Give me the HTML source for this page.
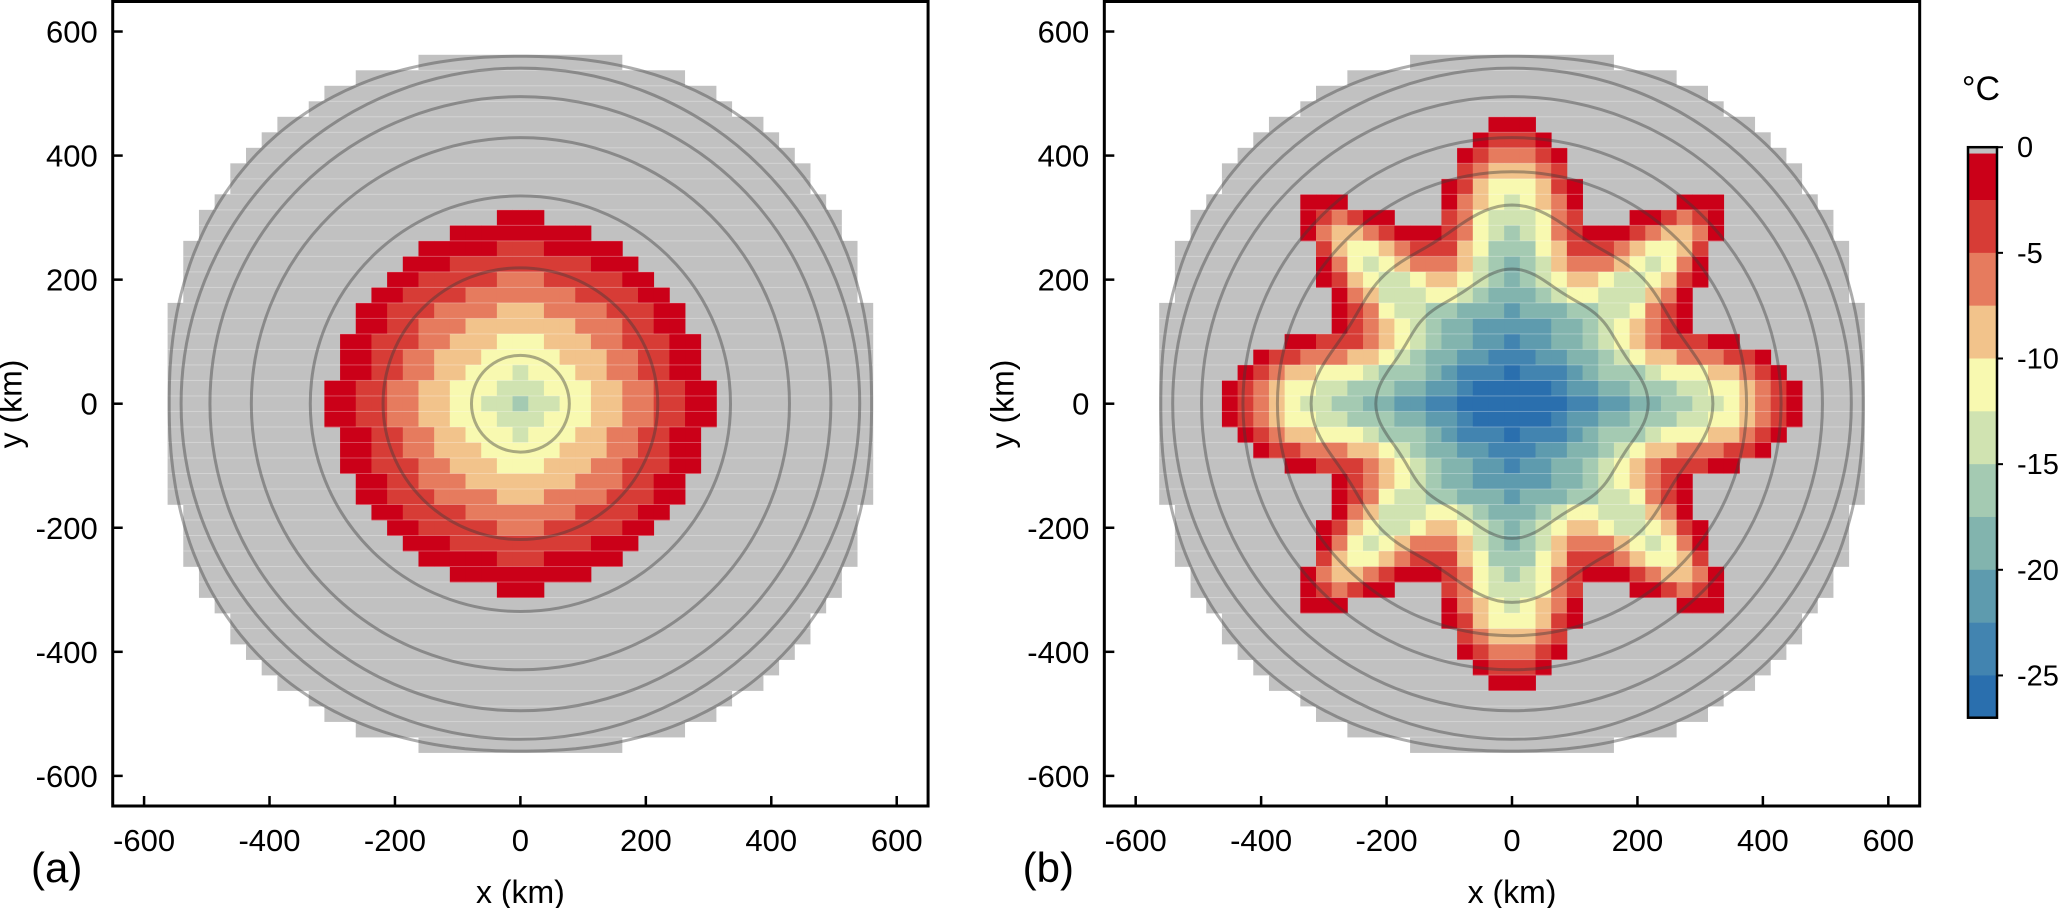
<!DOCTYPE html>
<html><head><meta charset="utf-8"><style>
html,body{margin:0;padding:0;background:#fff;}
svg{display:block;font-family:"Liberation Sans",Arial,sans-serif;}
</style></head><body>
<svg id="fig" width="2066" height="908" viewBox="0 0 2066 908" xmlns="http://www.w3.org/2000/svg">
<g id="panelA"></g>
<g id="panelB"></g>
<g id="cbar"></g>
</svg>
<script>
// ---- data ----
const bandColors = ["none","#CB0018","#D73C36","#E67B5E","#F2C38B","#F8F9B0","#D0E3B1","#A4CAB2","#82B4AE","#5E9BAE","#4284B0","#2A6FAE"];
const bandEdges = [0,-2.5,-5,-7.5,-10,-12.5,-15,-17.5,-20,-22.5,-25,-27];
const cbarTicks = [0,-5,-10,-15,-20,-25];
const xTicks = [-600,-400,-200,0,200,400,600];
const yTicks = [600,400,200,0,-200,-400,-600];
const contoursA = [78,219,335,429,495,541];
const contoursB = [374,429,495,541];
const wavyContoursB = [202,298];
const gridA = [
"...........111...........",
"........111111111........",
"......1111122211111......",
".....111222222222111.....",
"....11222223332222211....",
"...1122223333333222211...",
"..112223333444333322211..",
"..112233344444443332211..",
".11222334445554443322211.",
".11223344455555444332211.",
".11223344555655544332211.",
"1122334455566655544332211",
"1122334455667665544332211",
"1122334455566655544332211",
".11223344555655544332211.",
".11223344455555444332211.",
".11222334445554443322211.",
"..112233344444443332211..",
"..112223333444333322211..",
"...1122223333333222211...",
"....11222223332222211....",
".....111222222222111.....",
"......1111122211111......",
"........111111111........",
"...........111..........."
];
const gridB = [
".................1"+"1"+"1.................",
"................12"+"2"+"21................",
"...............123"+"3"+"321...............",
"...............234"+"4"+"432...............",
"..............1245"+"5"+"5421..............",
".....111......1345"+"6"+"5431......111.....",
".....123211...2356"+"6"+"6532...112321.....",
".....1344321112356"+"7"+"6532111234431.....",
"......245543222457"+"7"+"754222345542......",
"......135654333467"+"8"+"764333456531......",
"......124566544567"+"8"+"765445665421......",
".......13466655678"+"8"+"87655666431.......",
".......12356677888"+"9"+"88877665321.......",
".......12345678899"+"9"+"99887654321.......",
"....11222345678899"+"a"+"99887654322211....",
"..122333445678899a"+"a"+"a998876544333221..",
".12344555677789aaa"+"b"+"aaa98777655544321.",
"123455667778899abb"+"b"+"bba998877766554321",
"1234566778899aabbb"+"b"+"bbbaa9988776654321",
"123455667778899abb"+"b"+"bba998877766554321",
".12344555677789aaa"+"b"+"aaa98777655544321.",
"..122333445678899a"+"a"+"a998876544333221..",
"....11222345678899"+"a"+"99887654322211....",
".......12345678899"+"9"+"99887654321.......",
".......12356677888"+"9"+"88877665321.......",
".......13466655678"+"8"+"87655666431.......",
"......124566544567"+"8"+"765445665421......",
"......135654333467"+"8"+"764333456531......",
"......245543222457"+"7"+"754222345542......",
".....1344321112356"+"7"+"6532111234431.....",
".....123211...2356"+"6"+"6532...112321.....",
".....111......1345"+"6"+"5431......111.....",
"..............1245"+"5"+"5421..............",
"...............234"+"4"+"432...............",
"...............123"+"3"+"321...............",
"................12"+"2"+"21................",
".................1"+"1"+"1................."
];
const cellKm = 25;
const iceRadiusKm = 568;
const iceShapeP = 2.25;

// ---- helpers ----
const NS = "http://www.w3.org/2000/svg";
function mk(tag, attrs, parent){
  const e = document.createElementNS(NS, tag);
  for (const k in attrs) e.setAttribute(k, attrs[k]);
  parent.appendChild(e);
  return e;
}
const KX = 0.6272, KY = 0.6203, Y0 = 403.7;
function yPix(km){ return Y0 - km*KY; }
function inIce(xk, yk){
  return Math.pow(Math.abs(xk)/iceRadiusKm, iceShapeP) + Math.pow(Math.abs(yk)/iceRadiusKm, iceShapeP) < 1;
}

function drawPanel(g, x0, grid, contours, wavy, label){
  const xPix = km => x0 + km*KX;
  const left = x0 - 650*KX, right = x0 + 650*KX;
  const n = Math.ceil(iceRadiusKm/cellKm);
  for (let j=-n;j<=n;j++){
    let maxI=-1;
    for (let i=0;i<=n;i++){ if (inIce(i*cellKm,j*cellKm)) maxI=i; }
    if (maxI<0) continue;
    const r = mk("rect",{x:xPix((-maxI-0.5)*cellKm), y:yPix((j+0.5)*cellKm), width:(2*maxI+1)*cellKm*KX, height:cellKm*KY+0.3, fill:"#C1C1C1"}, g);
    
    
  }
  const h = (grid.length-1)/2;
  grid.forEach((row, ri) => {
    const j = h - ri;
    for (let ci=0; ci<row.length; ci++){
      const c = row[ci];
      if (c === ".") continue;
      const i = ci - (row.length-1)/2;
      const cell = mk("rect",{x:xPix((i-0.5)*cellKm), y:yPix((j+0.5)*cellKm), width:cellKm*KX+0.4, height:cellKm*KY+0.4, fill:bandColors[parseInt(c,16)]}, g);
      
      
    }
  });
  for (let j=-n;j<=n+1;j++){
    let maxI=-1;
    for (let i=0;i<=n;i++){ if (inIce(i*cellKm,j*cellKm) && inIce(i*cellKm,(j-1)*cellKm)) maxI=i; }
    if (maxI<0) continue;
    const l = mk("rect",{x:xPix((-maxI-0.5)*cellKm), y:yPix((j-0.5)*cellKm)-0.5, width:(2*maxI+1)*cellKm*KX, height:1, fill:"rgba(255,255,255,0.3)"}, g);
    
    
  }
  let d="";
  for (let k=0;k<=360;k++){
    const t=k*Math.PI/180, p=iceShapeP, R=560;
    const c=Math.cos(t), s=Math.sin(t);
    const rr = R/Math.pow(Math.pow(Math.abs(c),p)+Math.pow(Math.abs(s),p),1/p);
    d += (k?"L":"M")+xPix(rr*c).toFixed(1)+","+yPix(rr*s).toFixed(1);
  }
  const ol = mk("path",{d:d+"Z", fill:"none", stroke:"rgba(70,70,70,0.45)", "stroke-width":3}, g);
  
  
  contours.forEach(r => {
    const c = mk("ellipse",{cx:xPix(0), cy:yPix(0), rx:r*KX, ry:r*KY, fill:"none", stroke:"rgba(60,60,60,0.42)", "stroke-width":3}, g);
    
    
  });
  wavy.forEach(r => {
    let dd="";
    for (let k=0;k<=360;k+=2){
      const t=k*Math.PI/180;
      const rr = r + 0.05*r*Math.cos(4*t) + 0.025*r*Math.cos(8*t);
      dd += (k?"L":"M")+xPix(rr*Math.cos(t)).toFixed(1)+","+yPix(rr*Math.sin(t)).toFixed(1);
    }
    const c = mk("path",{d:dd+"Z", fill:"none", stroke:"rgba(60,60,60,0.42)", "stroke-width":3}, g);
    
    
  });
  const fr = mk("rect",{x:left, y:1.5, width:right-left, height:806-1.5, fill:"none", stroke:"#000", "stroke-width":3}, g);
  
  
  xTicks.forEach(v => {
    const t = mk("line",{x1:xPix(v), x2:xPix(v), y1:806, y2:796, stroke:"#000","stroke-width":2.5}, g);
    
    
    const tx = mk("text",{x:xPix(v), y:851, "font-size":31, "text-anchor":"middle"}, g);
    tx.textContent = v;
    
    
  });
  yTicks.forEach(v => {
    const t = mk("line",{x1:left, x2:left+10, y1:yPix(v), y2:yPix(v), stroke:"#000","stroke-width":2.5}, g);
    
    
    const tx = mk("text",{x:left-15, y:yPix(v)+11, "font-size":31, "text-anchor":"end"}, g);
    tx.textContent = v;
    
    
  });
  const xl = mk("text",{x:x0, y:903, "font-size":32, "text-anchor":"middle"}, g);
  xl.textContent = "x (km)";
  
  
  const yx = left-91;
  const yl = mk("text",{x:yx, y:404, "font-size":32, "text-anchor":"middle", transform:"rotate(-90 "+yx+" 404)"}, g);
  yl.textContent = "y (km)";
  
  
  const pl = mk("text",{x:left-56, y:882, "font-size":42, "text-anchor":"middle"}, g);
  pl.textContent = label;
  
  
}
drawPanel(document.getElementById("panelA"), 520.4, gridA, contoursA, [], "(a)");
drawPanel(document.getElementById("panelB"), 1512, gridB, contoursB, wavyContoursB, "(b)");

// ---- colorbar ----
(function(){
  const g = document.getElementById("cbar");
  const cx0 = 1968, cw = 29, top = 147.2, k = 21.13;
  const cy = T => top + (-T)*k;
  const gr = mk("rect",{x:cx0, y:cy(0), width:cw, height:cy(-0.3)-cy(0), fill:"#C1C1C1"}, g);
  
  
  for (let b=1;b<bandEdges.length;b++){
    const hi = b===1 ? -0.3 : bandEdges[b-1];
    const r = mk("rect",{x:cx0, y:cy(hi), width:cw, height:cy(bandEdges[b])-cy(hi)+0.3, fill:bandColors[b]}, g);
    
    
  }
  const f = mk("rect",{x:cx0, y:cy(0), width:cw, height:cy(bandEdges[bandEdges.length-1])-cy(0), fill:"none", stroke:"#000","stroke-width":2.5}, g);
  
  
  cbarTicks.forEach(v => {
    const t = mk("line",{x1:cx0+cw, x2:cx0+cw+6, y1:cy(v), y2:cy(v), stroke:"#000","stroke-width":2}, g);
    
    
    const tx = mk("text",{x:2017, y:cy(v)+10, "font-size":29}, g);
    tx.textContent = v;
    
    
  });
  const u = mk("text",{x:1981, y:100, "font-size":34, "text-anchor":"middle"}, g);
  u.textContent = "°C";
  
  
})();
</script>
</body></html>
